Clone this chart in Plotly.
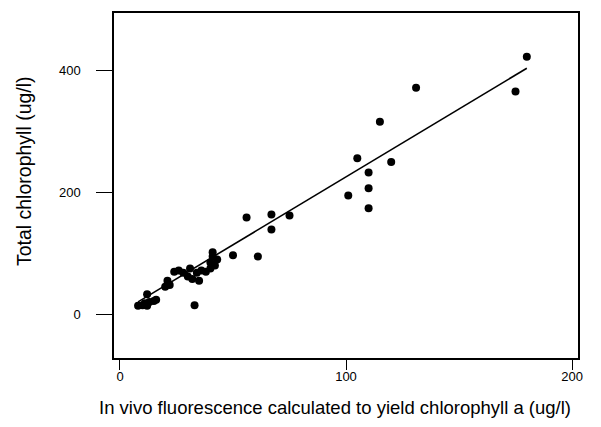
import plotly.graph_objects as go
import numpy as np

# In vivo fluorescence (ug/l) and total chlorophyll (ug/l)
fluor = [8, 10, 12, 11, 13, 15, 12, 16, 20, 21, 22, 24, 26, 28, 30, 31, 32, 33,
         34, 35, 36, 38, 40, 40, 41, 41, 42, 43, 50, 56, 61, 67, 67, 75,
         101, 105, 110, 110, 110, 115, 120, 131, 175, 180]
total_chl = [14, 15, 14, 18, 20, 22, 33, 24, 45, 55, 48, 70, 72, 68, 62, 75, 58, 15,
             68, 55, 72, 70, 75, 85, 95, 102, 80, 90, 97, 159, 95, 164, 139, 162,
             195, 256, 233, 207, 174, 316, 250, 372, 366, 423]

# Regression line
fit_intercept = 2.6
fit_slope = 2.23
fit_x_range = [8, 180]

x_ticks = [0, 100, 200]
y_ticks = [0, 200, 400]

x_title = "In vivo fluorescence calculated to yield chlorophyll a (ug/l)"
y_title = "Total chlorophyll (ug/l)"

fit_x = np.array(fit_x_range, dtype=float)
fit_y = fit_intercept + fit_slope * fit_x

fig = go.Figure()
fig.add_trace(go.Scatter(x=fit_x, y=fit_y, mode="lines",
                         line=dict(color="black", width=1.6), showlegend=False))
fig.add_trace(go.Scatter(x=fluor, y=total_chl, mode="markers",
                         marker=dict(color="black", size=8), showlegend=False))

W, H = 601, 427
font_family = "Liberation Sans, Arial, sans-serif"
fig.update_layout(
    width=W, height=H,
    margin=dict(l=114, r=23, t=11, b=69),
    paper_bgcolor="white", plot_bgcolor="white",
    font=dict(family=font_family, color="black", size=13),
    xaxis=dict(range=[-2.65, 202.65], tickvals=x_ticks, ticks="outside", ticklen=10,
               tickwidth=1.2, tickcolor="black", showgrid=False, zeroline=False,
               showline=True, linecolor="black", linewidth=1.5, mirror=True,
               ticklabelstandoff=-4, tickfont=dict(size=13)),
    yaxis=dict(range=[-71.8, 494.7], tickvals=y_ticks, ticks="outside", ticklen=16,
               tickwidth=1.2, tickcolor="black", showgrid=False, zeroline=False,
               showline=True, linecolor="black", linewidth=1.5, mirror=True,
               ticklabelstandoff=13, tickfont=dict(size=13)),
    annotations=[
        dict(text=x_title, xref="paper", yref="paper",
             x=(335 - 114) / (W - 114 - 23), y=-(408 - 358) / (358 - 11),
             xanchor="center", yanchor="middle", showarrow=False,
             font=dict(size=18.5)),
        dict(text=y_title, xref="paper", yref="paper",
             x=-(114 - 24) / (W - 114 - 23), y=(358 - 170) / (358 - 11),
             xanchor="center", yanchor="middle", showarrow=False, textangle=-90,
             font=dict(size=19.5)),
    ],
)

fig.write_html("out.html")
